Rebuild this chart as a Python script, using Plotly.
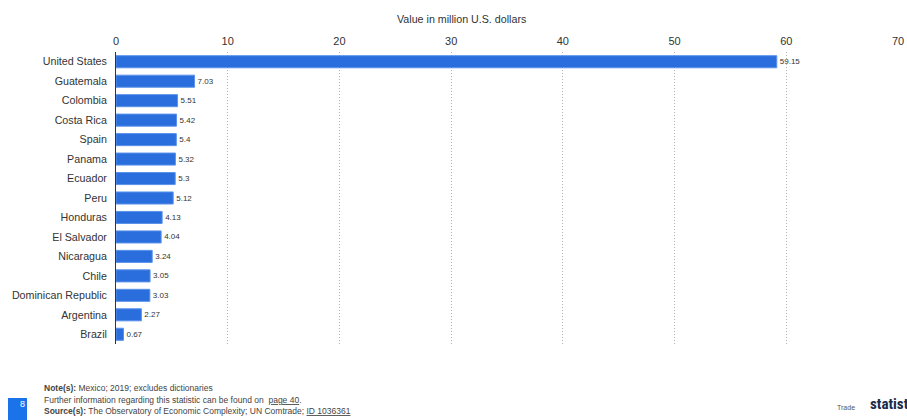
import plotly.graph_objects as go

countries = ["United States", "Guatemala", "Colombia", "Costa Rica", "Spain", "Panama",
             "Ecuador", "Peru", "Honduras", "El Salvador", "Nicaragua", "Chile",
             "Dominican Republic", "Argentina", "Brazil"]
values = [59.15, 7.03, 5.51, 5.42, 5.4, 5.32, 5.3, 5.12, 4.13, 4.04, 3.24, 3.05, 3.03, 2.27, 0.67]
value_labels = ["59.15", "7.03", "5.51", "5.42", "5.4", "5.32", "5.3", "5.12", "4.13", "4.04",
                "3.24", "3.05", "3.03", "2.27", "0.67"]
x_ticks = [0, 10, 20, 30, 40, 50, 60, 70]
axis_title = "Value in million U.S. dollars"

font = "Liberation Sans, Arial, sans-serif"

W, H = 907, 420
PL, PR, PT, PB = 116, 898, 52, 344


def px(x):
    return (x - PL) / (PR - PL)


def py(y):
    return (PB - y) / (PB - PT)


fig = go.Figure()
fig.add_trace(go.Bar(
    y=countries, x=values, orientation="h",
    marker=dict(color="#2a6ddd", line=dict(color="#5b93ea", width=1)),
    width=0.62,
    text=value_labels, textposition="outside", cliponaxis=False,
    textfont=dict(size=8, color="#333333", family=font),
))

fig.update_layout(
    width=W, height=H,
    margin=dict(l=PL, r=W - PR, t=PT, b=H - PB),
    paper_bgcolor="white", plot_bgcolor="white",
    showlegend=False,
    font=dict(family=font, color="#333333"),
    xaxis=dict(
        side="top", range=[0, 70], tickvals=x_ticks, automargin=False,
        tickfont=dict(size=11, color="#333333"), ticklabelstandoff=4,
        showgrid=True, gridcolor="#b0b0b0", griddash="1px,2px", gridwidth=1,
        zeroline=False, showline=False, ticks="",
    ),
    yaxis=dict(
        autorange="reversed", categoryorder="array", categoryarray=countries,
        tickfont=dict(size=10.7, color="#333333"), automargin=False,
        showline=True, linecolor="#333333", linewidth=1, ticks="",
        ticksuffix="  ", showgrid=False, range=[14.5, -0.5],
    ),
    bargap=0.38,
)

# axis title (centred on the page, above the tick labels)
fig.add_annotation(xref="paper", yref="paper", x=px(461.5), y=py(19), text=axis_title,
                   xanchor="center", yanchor="middle", showarrow=False,
                   font=dict(size=10.7, color="#333333", family=font))

# footer
fig.add_shape(type="rect", xref="paper", yref="paper", x0=px(8), x1=px(27),
              y0=py(420), y1=py(398), fillcolor="#1a73e8", line=dict(width=0))
fig.add_annotation(xref="paper", yref="paper", x=px(17.5), y=py(411), text="8",
                   showarrow=False, font=dict(size=9, color="white", family=font))
notes = [
    ("<b>Note(s):</b> Mexico; 2019; excludes dictionaries", 388),
    ("Further information regarding this statistic can be found on  <u>page 40</u>.", 400),
    ("<b>Source(s):</b> The Observatory of Economic Complexity; UN Comtrade; <u>ID 1036361</u>", 411),
]
for txt, y in notes:
    fig.add_annotation(xref="paper", yref="paper", x=px(42), y=py(y), text=txt,
                       xanchor="left", yanchor="middle", showarrow=False,
                       font=dict(size=8.5, color="#444444", family=font))
fig.add_annotation(xref="paper", yref="paper", x=px(835), y=py(407), text="Trade",
                   xanchor="left", yanchor="middle", showarrow=False,
                   font=dict(size=7, color="#555555", family=font))
fig.add_annotation(xref="paper", yref="paper", x=px(868), y=py(404), text="<b>statista</b>",
                   xanchor="left", yanchor="middle", showarrow=False,
                   font=dict(size=15, color="#1b2a4a", family="Roboto Condensed, Roboto, sans-serif"))

fig.write_html(
    "out.html",
    config={"displayModeBar": False},
    post_script="document.body.style.margin='0';document.body.style.overflow='hidden';",
)
